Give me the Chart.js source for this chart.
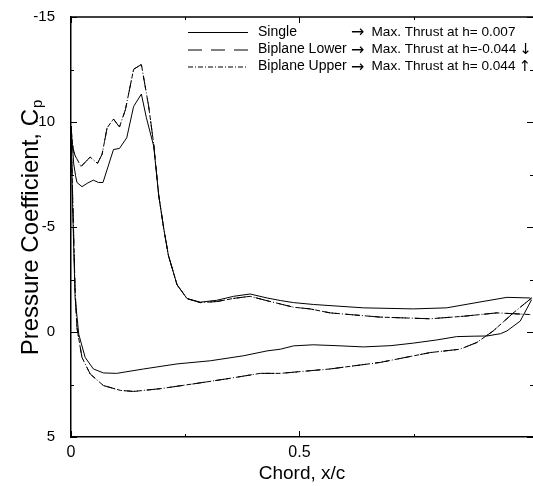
<!DOCTYPE html>
<html>
<head>
<meta charset="utf-8">
<script src="https://cdn.jsdelivr.net/npm/chart.js@4.4.1/dist/chart.umd.min.js"></script>
<style>
  html, body { margin: 0; padding: 0; background: #fff; overflow: hidden; }
  #wrap { width: 533px; height: 486px; position: relative; }
</style>
</head>
<body>
<div id="wrap"><canvas id="cp"></canvas></div>
<script>
// Pressure distribution around the section: each loop runs along the
// lower surface from the trailing edge to the leading edge, then back
// along the upper surface.
const singleX = [1.008, 0.983, 0.954, 0.94, 0.91, 0.88, 0.844, 0.80, 0.749, 0.70, 0.64, 0.58, 0.53, 0.487, 0.458, 0.429, 0.378, 0.305, 0.232, 0.159, 0.10, 0.071, 0.049, 0.031, 0.017, 0.009, 0.006, 0.003, 0.0,
                 0.003, 0.006, 0.010, 0.013, 0.024, 0.037, 0.049, 0.060, 0.070, 0.093, 0.106, 0.122, 0.137, 0.154, 0.165, 0.181, 0.192, 0.203, 0.213, 0.232, 0.254, 0.283, 0.319, 0.356, 0.392, 0.429, 0.458, 0.487, 0.531, 0.64, 0.749, 0.822, 0.895, 0.954, 1.005];
const singleCp = [-1.54, -0.52, -0.05, 0.08, 0.19, 0.20, 0.22, 0.38, 0.53, 0.65, 0.71, 0.65, 0.61, 0.66, 0.82, 0.90, 1.13, 1.37, 1.52, 1.76, 1.97, 1.95, 1.76, 1.21, 0.11, -1.62, -3.98, -6.5, -9.8,
                  -8.9, -8.0, -7.44, -7.12, -6.92, -7.10, -7.23, -7.12, -7.12, -8.69, -8.74, -9.25, -10.74, -11.33, -10.2, -8.85, -6.5, -4.92, -3.66, -2.25, -1.59, -1.42, -1.51, -1.70, -1.81, -1.62, -1.50, -1.40, -1.31, -1.15, -1.10, -1.15, -1.43, -1.65, -1.62];

const lowerX = [1.008, 0.968, 0.924, 0.888, 0.851, 0.786, 0.676, 0.567, 0.458, 0.414, 0.341, 0.268, 0.195, 0.137, 0.108, 0.071, 0.042, 0.024, 0.013, 0.009, 0.006, 0.003, 0.0,
                0.003, 0.006, 0.0094, 0.022, 0.042, 0.058, 0.068, 0.079, 0.093, 0.106, 0.119, 0.137, 0.154, 0.170, 0.181, 0.192, 0.203, 0.213, 0.232, 0.254, 0.283, 0.319, 0.356, 0.392, 0.429, 0.487, 0.523, 0.567, 0.676, 0.786, 0.859, 0.932, 1.005];
const lowerCp = [-1.62, -0.91, -0.05, 0.50, 0.82, 0.98, 1.45, 1.76, 1.97, 1.97, 2.23, 2.47, 2.70, 2.83, 2.78, 2.55, 2.00, 1.21, -0.2, -2.0, -4.5, -7.0, -9.8,
                 -9.0, -8.6, -8.38, -7.88, -8.33, -8.03, -8.46, -9.72, -10.14, -9.76, -10.58, -12.51, -12.74, -10.74, -8.95, -6.5, -4.92, -3.66, -2.25, -1.59, -1.40, -1.45, -1.60, -1.70, -1.49, -1.18, -1.10, -0.91, -0.71, -0.63, -0.75, -0.91, -0.83];

const upperX = lowerX.slice();
const upperCp = lowerCp.slice();

const seriesNames = ['Single', 'Biplane Lower', 'Biplane Upper'];
const seriesNotes = ['Max. Thrust at h= 0.007', 'Max. Thrust at h=-0.044', 'Max. Thrust at h= 0.044'];
const seriesMarks = ['', '\u2193', '\u2191'];
const xTickValues = [0, 0.5];
const yTickValues = [-15, -10, -5, 0, 5];
const xMinorValues = [0.25, 0.75];
const yMinorValues = [-12.5, -7.5, -2.5, 2.5];

const FONT = '"Liberation Sans", Arial, Helvetica, sans-serif';
const SYM = '"DejaVu Sans", sans-serif';
const INK = '#000';

function pts(xs, ys) { return xs.map((x, i) => ({ x: x, y: ys[i] })); }

const dashes = [[], [14, 9], [5, 2, 1, 2]];

// Frame, inward tick marks, legend and y-axis title with subscript
const decorations = {
  id: 'decorations',
  afterDraw(chart) {
    const { ctx, chartArea: a, scales: { x, y } } = chart;
    ctx.save();
    ctx.strokeStyle = INK;
    ctx.lineWidth = 1.5;
    ctx.beginPath();
    ctx.moveTo(a.left, a.top); ctx.lineTo(a.right + 2, a.top);
    ctx.stroke();

    ctx.lineWidth = 1;
    const tick = (x0, y0, x1, y1) => { ctx.beginPath(); ctx.moveTo(x0, y0); ctx.lineTo(x1, y1); ctx.stroke(); };
    xTickValues.concat(xMinorValues).forEach(v => {
      const len = xTickValues.includes(v) ? 6 : 3;
      const px = Math.round(x.getPixelForValue(v)) + 0.5;
      tick(px, a.bottom, px, a.bottom - len);
      tick(px, a.top, px, a.top + len);
    });
    yTickValues.concat(yMinorValues).forEach(v => {
      const len = yTickValues.includes(v) ? 6 : 3;
      const py = Math.round(y.getPixelForValue(v)) + 0.5;
      tick(a.left, py, a.left + len, py);
      tick(a.right, py, a.right - len, py);
    });

    // legend
    const rows = [32, 49.5, 66.5];
    ctx.fillStyle = INK;
    ctx.textBaseline = 'middle';
    ctx.textAlign = 'left';
    chart.data.datasets.forEach((ds, i) => {
      ctx.save();
      ctx.setLineDash(ds.borderDash || []);
      ctx.lineWidth = 1;
      ctx.beginPath();
      ctx.moveTo(188, rows[i] + 0.5); ctx.lineTo(248, rows[i] + 0.5);
      ctx.stroke();
      ctx.restore();
      ctx.font = '14px ' + FONT;
      ctx.fillText(seriesNames[i], 258, rows[i]);
      ctx.font = '16px ' + SYM;
      ctx.fillText('\u2192', 351, rows[i] + 1);
      ctx.font = '13.6px ' + FONT;
      ctx.fillText(seriesNotes[i], 371.5, rows[i]);
      if (seriesMarks[i]) {
        const w = ctx.measureText(seriesNotes[i]).width;
        ctx.font = '15px ' + SYM;
        ctx.fillText(seriesMarks[i], 371.5 + w + 3, rows[i] + 1);
      }
    });

    // y-axis title
    ctx.save();
    ctx.translate(30, 228);
    ctx.rotate(-Math.PI / 2);
    const main = 'Pressure Coefficient, C';
    ctx.font = '24px ' + FONT;
    const wMain = ctx.measureText(main).width;
    ctx.font = '15px ' + FONT;
    const wSub = ctx.measureText('p').width;
    const start = -(wMain + wSub) / 2;
    ctx.textAlign = 'left';
    ctx.textBaseline = 'alphabetic';
    ctx.font = '24px ' + FONT;
    ctx.fillText(main, start, 8);
    ctx.font = '15px ' + FONT;
    ctx.fillText('p', start + wMain + 1, 12);
    ctx.restore();

    ctx.restore();
  }
};

new Chart(document.getElementById('cp'), {
  type: 'scatter',
  data: {
    datasets: [
      { label: seriesNames[0], data: pts(singleX, singleCp), borderDash: dashes[0] },
      { label: seriesNames[1], data: pts(lowerX, lowerCp), borderDash: dashes[1] },
      { label: seriesNames[2], data: pts(upperX, upperCp), borderDash: dashes[2] }
    ].map(d => Object.assign(d, {
      showLine: true, pointRadius: 0, borderColor: INK, borderWidth: 1, tension: 0, fill: false
    }))
  },
  options: {
    responsive: true,
    maintainAspectRatio: false,
    animation: false,
    devicePixelRatio: 1,
    layout: { padding: { top: 13, right: 0, left: 0, bottom: 0 } },
    plugins: { legend: { display: false }, tooltip: { enabled: false } },
    scales: {
      x: {
        type: 'linear', min: 0, max: 1.011,
        grid: { display: false },
        border: { display: true, color: INK, width: 1.5 },
        afterBuildTicks: s => { s.ticks = xTickValues.map(v => ({ value: v })); },
        afterFit: s => { s.height = 49; },
        ticks: { color: INK, font: { family: FONT, size: 16 }, padding: -2, maxRotation: 0,
                 callback: v => String(v) },
        title: { display: true, text: 'Chord, x/c', color: INK, font: { family: FONT, size: 19 }, padding: { top: 0, bottom: 1 } }
      },
      y: {
        type: 'linear', min: -15, max: 5, reverse: true,
        grid: { display: false },
        border: { display: true, color: INK, width: 1.5 },
        afterBuildTicks: s => { s.ticks = yTickValues.map(v => ({ value: v })); },
        afterFit: s => { s.width = 71; },
        ticks: { color: INK, font: { family: FONT, size: 15 }, padding: 8,
                 callback: v => String(v) }
      }
    }
  },
  plugins: [decorations]
});
</script>
</body>
</html>
